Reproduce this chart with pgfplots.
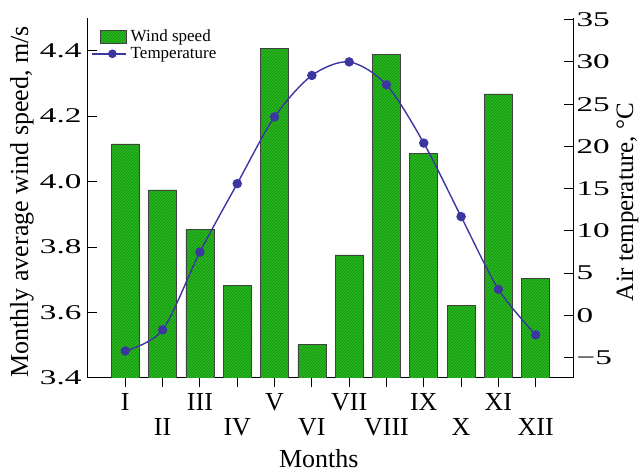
\documentclass[border=0pt]{standalone}
\usepackage{graphicx}
\usepackage{pgfplots}
\pgfplotsset{compat=1.18}
\usepackage{fontspec}
\setmainfont{Liberation Serif}
\usetikzlibrary{patterns}
\definecolor{barfill}{RGB}{40,188,30}
\definecolor{hatch}{RGB}{20,135,20}
\definecolor{tline}{RGB}{60,55,160}
\newcommand\yt[1]{\scalebox{1.58}[1]{#1}}
\newcommand\dn[1]{\raisebox{-25pt}{#1}}
\pgfplotsset{
  barlegend/.style={legend image code/.code={\draw[##1] (0cm,-0.22cm) rectangle (0.9cm,0.22cm);}},
  linelegend/.style={legend image code/.code={\draw[tline, line width=1.4pt] (-0.3cm,0cm) -- (0.9cm,0cm);
    \fill[tline] (0.42cm,0cm) circle (3.6pt);}},
}
\begin{document}
\begin{tikzpicture}
\begin{axis}[
  scale only axis, width=485pt, height=360pt,
  xmin=0, xmax=13, ymin=3.4, ymax=4.5,
  axis x line*=bottom, axis y line*=left, axis line style={-, line width=1pt},
  xtick={1,...,12},
  xticklabels={I,\dn{II},III,\dn{IV},V,\dn{VI},VII,\dn{VIII},IX,\dn{X},XI,\dn{XII}},
  xticklabel style={anchor=base, yshift=-24pt, font=\fontsize{26}{28}\selectfont},
  ytick={3.4,3.6,3.8,4.0,4.2,4.4},
  yticklabels={\yt{3.4},\yt{3.6},\yt{3.8},\yt{4.0},\yt{4.2},\yt{4.4}},
  yticklabel style={font=\fontsize{21}{24}\selectfont, xshift=-3pt},
  xtick align=outside, ytick align=inside,
  major tick length=9pt,
  tick style={black, line width=1pt},
  xlabel={Months}, ylabel={Monthly average wind speed, m/s},
  xlabel style={at={(axis description cs:0.476,-0.25)}, anchor=base},
  ylabel style={at={(axis description cs:-0.1237,0.489)}, anchor=base},
  label style={font=\fontsize{26}{28}\selectfont},
  legend style={at={(axis description cs:0,1)}, anchor=north west, xshift=0pt, yshift=-8pt, draw=none, fill=none,
    font=\fontsize{17}{18}\selectfont, row sep=0pt,
    /tikz/every odd column/.append style={column sep=2pt}},
  legend cell align=left,
]
\addplot[ybar, bar width=0.75, fill=barfill, draw=black!75, line width=0.6pt,
  postaction={pattern=north east lines, pattern color=hatch}, barlegend]
  coordinates {(1,4.115) (2,3.975) (3,3.855) (4,3.684) (5,4.406) (6,3.502)
               (7,3.776) (8,4.388) (9,4.086) (10,3.623) (11,4.268) (12,3.705)};
\addlegendentry{Wind speed}
\addlegendimage{tline, line width=1.4pt, linelegend}
\addlegendentry{Temperature}
\end{axis}
\begin{axis}[
  scale only axis, width=485pt, height=360pt,
  xmin=0, xmax=13, ymin=-7.4, ymax=35.2,
  axis x line=none, axis y line*=right, axis line style={-, line width=1pt},
  ytick={-5,0,5,10,15,20,25,30,35},
  yticklabels={\yt{−5},\yt{0},\yt{5},\yt{10},\yt{15},\yt{20},\yt{25},\yt{30},\yt{35}},
  yticklabel style={font=\fontsize{21}{24}\selectfont},
  ytick align=inside, major tick length=9pt,
  tick style={black, line width=1pt},
  ylabel={Air temperature, °C},
  ylabel style={at={(axis description cs:1.1237,0.489)}, anchor=base},
  label style={font=\fontsize{25}{28}\selectfont},
]
\addplot[tline, line width=1.4pt, smooth, mark=*, mark size=4pt,
  mark options={fill=tline, draw=tline}]
  coordinates {(1,-4.2) (2,-1.7) (3,7.5) (4,15.6) (5,23.5) (6,28.4)
               (7,30.0) (8,27.3) (9,20.4) (10,11.7) (11,3.1) (12,-2.3)};
\end{axis}
\pgfresetboundingbox
\path (-88pt,-98pt) rectangle (552pt,378pt);
\end{tikzpicture}
\end{document}
